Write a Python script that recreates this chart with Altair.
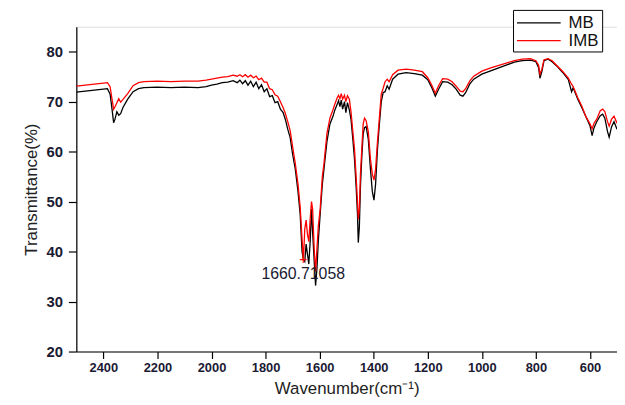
import altair as alt
import pandas as pd

wavenumber = [2500, 2450, 2400, 2385, 2375, 2368, 2362, 2357, 2350, 2343, 2336, 2328, 2310, 2290, 2270, 2250,
              2200, 2150, 2100, 2050, 2020, 2000, 1980, 1960, 1940, 1920, 1905, 1895, 1885, 1875, 1865, 1855,
              1845, 1835, 1825, 1815, 1805, 1795, 1785, 1775, 1765, 1755, 1745, 1735, 1727, 1718, 1709, 1700,
              1690, 1680, 1672, 1665, 1660, 1655, 1650, 1645, 1640, 1635, 1630, 1626, 1620, 1615, 1610, 1605,
              1598, 1590, 1584, 1573, 1562, 1550, 1544, 1535, 1530, 1525, 1520, 1515, 1508, 1503, 1497, 1490,
              1484, 1478, 1471, 1465, 1460, 1457, 1453, 1449, 1444, 1439, 1434, 1428, 1420, 1412, 1405, 1399,
              1393, 1386, 1379, 1372, 1365, 1358, 1350, 1343, 1330, 1310, 1280, 1250, 1220, 1200, 1185, 1172,
              1160, 1145, 1126, 1110, 1095, 1080, 1070, 1060, 1045, 1030, 1000, 970, 940, 910, 880, 850,
              820, 800, 790, 785, 778, 770, 755, 740, 720, 700, 680, 668, 662, 645, 630, 615,
              600, 592, 585, 575, 562, 553, 545, 535, 529, 520, 511, 500]

mb = [71.9, 72.2, 72.5, 72.6, 71.5, 68.5, 65.8, 66.5, 68.0, 67.3, 67.6, 68.8, 70.5, 72.0, 72.6, 72.8,
      72.9, 72.8, 72.9, 72.8, 73.0, 73.3, 73.5, 73.8, 73.9, 74.2, 73.8, 74.3, 73.6, 74.2, 73.3, 74.1,
      73.0, 73.9, 72.6, 73.4, 72.0, 72.6, 71.0, 71.2, 69.8, 70.0, 68.5, 67.8, 66.5, 64.5, 62.8, 59.5,
      56.5, 52.0, 47.5, 40.0, 38.5, 38.0, 41.5, 39.5, 37.5, 42.0, 48.5, 44.0, 38.0, 33.2, 36.5, 42.0,
      47.5, 53.5, 56.5, 62.0, 65.5, 67.2, 68.3, 69.5, 70.2, 69.0, 70.3, 68.5, 70.0, 67.8, 69.8, 68.3,
      66.5, 63.0, 58.5, 53.0, 47.5, 41.8, 45.0, 53.0, 59.0, 63.5, 64.8, 65.0, 62.5, 56.5, 52.0, 50.3,
      53.5, 60.5, 65.5, 70.0, 71.8, 72.0, 73.2, 72.5, 74.5, 75.5, 75.8, 75.6, 75.3, 74.4, 72.8, 71.1,
      72.5, 74.0, 73.9, 73.4, 72.5, 71.3, 71.1, 71.8, 73.5, 74.5, 75.5, 76.1, 76.7, 77.3, 77.9, 78.2,
      78.3, 78.0, 76.8, 74.7, 76.0, 78.2, 78.5, 78.0, 77.0, 75.8, 74.4, 72.0, 72.8, 70.5, 68.8, 67.0,
      65.2, 63.2, 64.8, 66.0, 67.2, 67.5, 66.7, 64.0, 62.9, 65.0, 66.0, 64.5]

imb = [73.1, 73.4, 73.7, 73.8, 73.0, 70.5, 68.5, 69.0, 69.8, 70.6, 69.9, 70.4, 71.6, 73.2, 73.8, 74.0,
       74.1, 74.0, 74.1, 74.1, 74.3, 74.5, 74.7, 74.9, 75.0, 75.3, 75.1, 75.4, 75.0, 75.4, 74.9, 75.3,
       74.8, 75.1, 74.4, 74.7, 73.9, 73.9, 72.6, 72.4, 71.4, 71.1, 70.0, 68.8, 67.7, 66.0, 64.2, 61.0,
       57.6, 53.5, 48.9, 42.5, 38.2, 44.5, 46.3, 43.5, 42.0, 46.5, 50.0, 48.5, 40.5, 36.0, 40.5, 45.0,
       48.5, 55.0, 57.6, 63.6, 66.7, 68.5, 69.5, 70.8, 71.3, 70.6, 71.6, 70.5, 71.3, 70.0, 71.2, 70.5,
       68.0, 64.5, 60.5, 55.0, 50.0, 46.5, 48.5, 55.5, 60.5, 65.5, 66.7, 66.2, 64.0, 58.5, 55.5, 54.3,
       56.5, 62.0, 66.7, 71.5, 72.7, 74.0, 74.5, 74.0, 75.4, 76.3, 76.5, 76.3, 76.0, 74.8, 73.3, 71.7,
       73.2, 74.6, 74.5, 74.0, 73.1, 72.1, 72.0, 72.6, 74.1, 75.1, 76.1, 76.7, 77.2, 77.7, 78.2, 78.5,
       78.6, 78.2, 77.3, 75.5, 76.5, 78.4, 78.6, 78.2, 77.1, 76.0, 74.7, 73.5, 73.0, 70.8, 69.1, 67.0,
       65.6, 64.6, 65.7, 66.5, 68.2, 68.5, 68.0, 66.0, 65.1, 66.5, 67.1, 65.7]

series_names = ["MB", "IMB"]
series_colors = ["#000000", "#ff0000"]

peak_wn = [1660.7]
peak_t = [38.2]
peak_label = ["1660.71058"]

x_ticks = list(range(600, 2401, 100))
y_ticks = list(range(20, 86, 5))

rows = []
for w, a, b in zip(wavenumber, mb, imb):
    rows.append({"wn": w, "T": a, "series": "MB", "ord": 0})
    rows.append({"wn": w, "T": b, "series": "IMB", "ord": 1})
df = pd.DataFrame(rows)
ann = pd.DataFrame({"wn": peak_wn, "T": peak_t, "label": peak_label})

FONT = "Liberation Sans"

x_scale = alt.Scale(domain=[500, 2500], reverse=True, nice=False, zero=False)
y_scale = alt.Scale(domain=[20, 85], nice=False, zero=False)

x_axis = alt.Axis(
    values=x_ticks, grid=False, title="Wavenumber(cm⁻¹)", format="d",
    labelExpr="datum.value % 200 === 0 ? datum.label : ''",
    tickSize={"condition": {"test": "datum.value % 200 === 0", "value": 7}, "value": 4},
    labelFont=FONT, labelFontSize=13, labelFontWeight="bold", labelColor="#1a1a33",
    labelPadding=3, titleFont=FONT, titleFontSize=17, titleFontWeight="normal",
    titleColor="#222222", titlePadding=6, domainColor="#000000", tickColor="#000000",
    domainWidth=1.2, tickWidth=1.2, labelFlush=False,
)
y_axis = alt.Axis(
    values=y_ticks, grid=False, title="Transmittance(%)", format="d",
    labelExpr="datum.value % 10 === 0 ? datum.label : ''",
    tickSize={"condition": {"test": "datum.value % 10 === 0", "value": 8}, "value": 5},
    labelFont=FONT, labelFontSize=15, labelFontWeight="bold", labelColor="#1a1a33",
    labelPadding=6, titleFont=FONT, titleFontSize=17, titleFontWeight="normal",
    titleColor="#222222", titlePadding=6, domainColor="#000000", tickColor="#000000",
    domainWidth=1.2, tickWidth=1.2, labelFlush=False,
)

lines = alt.Chart(df).mark_line(strokeWidth=1.3, clip=True).encode(
    x=alt.X("wn:Q", scale=x_scale, axis=x_axis),
    y=alt.Y("T:Q", scale=y_scale, axis=y_axis),
    color=alt.Color("series:N", scale=alt.Scale(domain=series_names, range=series_colors),
                    legend=alt.Legend(title=None, orient="none", legendX=441, legendY=-17,
                                      symbolType="M-1,0H3.9", symbolSize=324, symbolStrokeWidth=1.3,
                                      labelFont=FONT, labelFontSize=17, labelColor="#111111",
                                      strokeColor="#000000", padding=3, rowPadding=0,
                                      labelOffset=33, fillColor="white")),
    order=alt.Order("ord:Q"),
    detail="series:N",
)

plus = alt.Chart(ann).mark_text(text="+", color="#ff0000", fontSize=14, font=FONT, dy=-1).encode(
    x=alt.X("wn:Q", scale=x_scale), y=alt.Y("T:Q", scale=y_scale))

label = alt.Chart(ann).mark_text(color="#1a1a33", fontSize=16, font=FONT, dy=14, baseline="middle",
                                 align="center").encode(
    x=alt.X("wn:Q", scale=x_scale), y=alt.Y("T:Q", scale=y_scale), text="label:N")

chart = alt.layer(lines, plus, label).properties(
    width=546, height=328,
    autosize=alt.AutoSizeParams(type="none"),
    padding={"left": 69, "top": 17, "right": 0, "bottom": 44},
).configure_view(stroke=None).configure(background="white")

chart.save("out.html", embed_options={"renderer": "svg", "actions": False})
